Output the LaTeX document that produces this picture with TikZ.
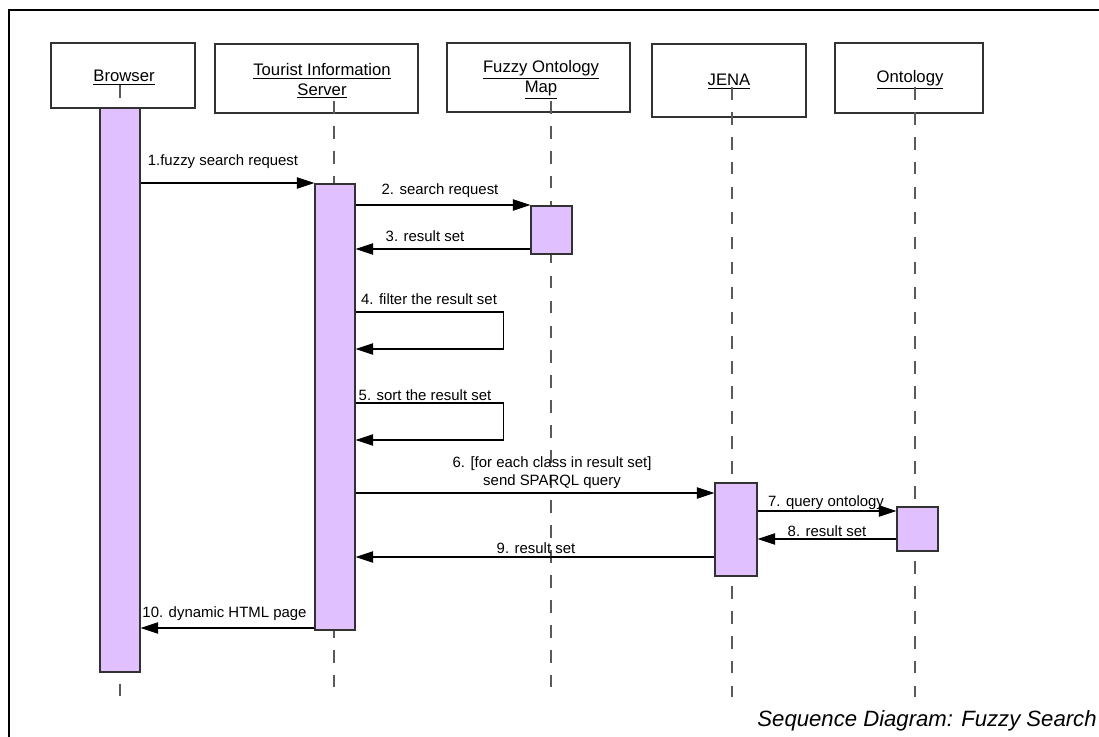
\documentclass[tikz,border=0pt]{standalone}
\usepackage{fontspec}
\setmainfont{Liberation Sans}
\usetikzlibrary{arrows.meta}
\definecolor{actfill}{RGB}{224,192,255}
\definecolor{edge}{RGB}{50,50,50}
\definecolor{lifegray}{RGB}{90,90,90}
\tikzset{
  participant/.style={draw=edge, line width=0.7pt, fill=white, inner sep=0pt},
  partlabel/.style={inner sep=0pt, align=center, font=\fontsize{9.5}{11.2}\selectfont},
  activation/.style={draw=edge, line width=0.7pt, fill=actfill, inner sep=0pt},
  lifeline/.style={draw=lifegray, line width=0.6pt, dash pattern=on 7.2pt off 7pt},
  msg/.style={draw=black, line width=0.6pt, -{Triangle[length=10pt,width=6.5pt]}},
  msglabel/.style={inner sep=0pt, font=\fontsize{8.5}{10}\selectfont, align=center},
  frameline/.style={draw=black, line width=0.8pt}
}
\begin{document}
\begin{tikzpicture}[x=0.02cm, y=-0.02cm]
\useasboundingbox (0,0) rectangle (1099,737);

% outer frame (left and top edges)
\coordinate (frameTL) at (9,10);
\coordinate (frameTR) at (1099,10);
\coordinate (frameBL) at (9,737);
\draw[frameline] (frameBL) -- (frameTL) -- (frameTR);

% participant heads
\node[participant, minimum width=2.88cm, minimum height=1.30cm] (pB) at (123,75.5) {};
\node[participant, minimum width=4.06cm, minimum height=1.38cm] (pT) at (316.5,78.5) {};
\node[participant, minimum width=3.66cm, minimum height=1.38cm] (pF) at (538.5,77.5) {};
\node[participant, minimum width=3.08cm, minimum height=1.46cm] (pJ) at (729,80.5) {};
\node[participant, minimum width=2.96cm, minimum height=1.40cm] (pO) at (909,78) {};
\node[partlabel] (pBl) at (124,78) {\underline{Browser}};
\node[partlabel] (pTl) at (322,81) {\underline{Tourist Information}\\\underline{Server}};
\node[partlabel] (pFl) at (541,80) {\underline{Fuzzy Ontology}\\\underline{Map}};
\node[partlabel] (pJl) at (729,82) {\underline{JENA}};
\node[partlabel] (pOl) at (910,80) {\underline{Ontology}};

% lifelines
\coordinate (lB0) at (120,85);  \coordinate (lB1) at (120,697);
\coordinate (lT0) at (334,101); \coordinate (lT1) at (334,697);
\coordinate (lF0) at (551,101); \coordinate (lF1) at (551,697);
\coordinate (lJ0) at (732,87);  \coordinate (lJ1) at (732,697);
\coordinate (lO0) at (915,87);  \coordinate (lO1) at (915,697);
\draw[lifeline] (lB0) -- (lB1);
\draw[lifeline] (lT0) -- (lT1);
\draw[lifeline] (lF0) -- (lF1);
\draw[lifeline] (lJ0) -- (lJ1);
\draw[lifeline] (lO0) -- (lO1);

% activation bars
\node[activation, minimum width=0.80cm, minimum height=11.28cm] (aB) at (120,390) {};
\node[activation, minimum width=0.80cm, minimum height=8.92cm] (aT) at (335,407) {};
\node[activation, minimum width=0.82cm, minimum height=0.96cm] (aF) at (551.5,230) {};
\node[activation, minimum width=0.84cm, minimum height=1.86cm] (aJ) at (736,529.5) {};
\node[activation, minimum width=0.82cm, minimum height=0.88cm] (aO) at (917.5,529) {};

% messages
\draw[msg] (aB.east |- 0,183) -- (aT.west |- 0,183);
\node[msglabel] (m1) at (223,162) {1.fuzzy search request};

\draw[msg] (aT.east |- 0,205) -- (aF.west |- 0,205);
\node[msglabel] (m2) at (440,191) {2. search request};

\draw[msg] (aF.west |- 0,249) -- (aT.east |- 0,249);
\node[msglabel] (m3) at (425,236) {3. result set};

\draw[msg] (aT.east |- 0,312) -- ++(148,0) |- (aT.east |- 0,349);
\node[msglabel] (m4) at (429,299) {4. filter the result set};

\draw[msg] (aT.east |- 0,403) -- ++(148,0) |- (aT.east |- 0,440);
\node[msglabel] (m5) at (425,395) {5. sort the result set};

\draw[msg] (aT.east |- 0,493) -- (aJ.west |- 0,493);
\node[msglabel] (m6) at (552,472.5) {6. [for each class in result set]\\send SPARQL query};

\draw[msg] (aJ.east |- 0,511) -- (aO.west |- 0,511);
\node[msglabel] (m7) at (826,503) {7. query ontology};

\draw[msg] (aO.west |- 0,539) -- (aJ.east |- 0,539);
\node[msglabel] (m8) at (827,531) {8. result set};

\draw[msg] (aJ.west |- 0,557) -- (aT.east |- 0,557);
\node[msglabel] (m9) at (536,548) {9. result set};

\draw[msg] (aT.west |- 0,628) -- (aB.east |- 0,628);
\node[msglabel] (m10) at (224.5,614) {10. dynamic HTML page};

% caption
\node[inner sep=0pt, anchor=east, font=\fontsize{12.6}{15}\selectfont\itshape] (caption) at (1097,721) {Sequence Diagram: Fuzzy Search};
\end{tikzpicture}
\end{document}
